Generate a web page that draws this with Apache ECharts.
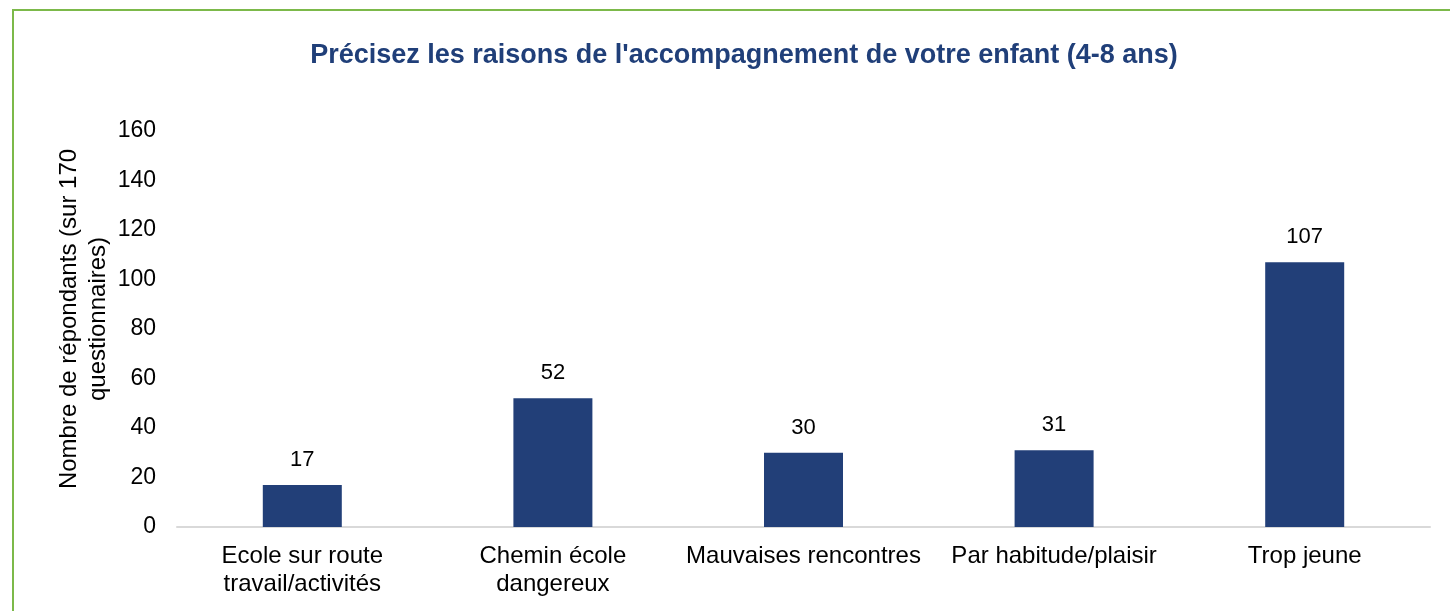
<!DOCTYPE html>
<html>
<head>
<meta charset="utf-8">
<script src="https://cdn.jsdelivr.net/npm/echarts@6/dist/echarts.min.js"></script>
<style>
  html, body { margin: 0; padding: 0; background: #fff; }
  #chart { width: 1450px; height: 611px; }
</style>
</head>
<body>
<div id="chart"></div>
<script>
// raisons de l'accompagnement (4-8 ans)
const categories = [
  'Ecole sur route\ntravail/activités',
  'Chemin école\ndangereux',
  'Mauvaises rencontres',
  'Par habitude/plaisir',
  'Trop jeune'
];
const values = [17, 52, 30, 31, 107];

const chart = echarts.init(document.getElementById('chart'));
const font = '"Liberation Sans", Arial, sans-serif';

const option = {
  animation: false,
  title: {
    text: "Précisez les raisons de l'accompagnement de votre enfant (4-8 ans)",
    left: 739,
    textAlign: 'center',
    top: 37,
    textStyle: { color: '#203f79', fontSize: 27, fontWeight: 'bold', fontFamily: font }
  },
  graphic: [
    {
      type: 'polyline',
      shape: { points: [[13, 611], [13, 10], [1450, 10]] },
      style: { stroke: '#7cb94a', lineWidth: 2, fill: null }
    }
  ],
  grid: { left: 177, right: 20, top: 131, bottom: 84 },
  xAxis: {
    type: 'category',
    data: categories,
    axisLine: { lineStyle: { color: '#d9d9d9', width: 2 } },
    axisTick: { show: false },
    axisLabel: {
      interval: 0,
      color: '#000', fontSize: 24, fontFamily: font, margin: 15, lineHeight: 28
    }
  },
  yAxis: {
    type: 'value',
    min: 0,
    max: 160,
    interval: 20,
    name: 'Nombre de répondants (sur 170\nquestionnaires)',
    nameLocation: 'middle',
    nameGap: 64,
    nameMoveOverlap: false,
    nameRotate: 90,
    nameTextStyle: {
      color: '#000', fontSize: 24, fontFamily: font, lineHeight: 29,
      padding: [0, 0, 0, 20]
    },
    splitLine: { show: false },
    axisLine: { show: false },
    axisTick: { show: false },
    axisLabel: { color: '#000', fontSize: 23, fontFamily: font, margin: 21 }
  },
  series: [
    {
      type: 'bar',
      data: values,
      barWidth: 79,
      itemStyle: { color: '#223f78' },
      label: {
        show: true,
        position: 'top',
        distance: 14,
        color: '#000',
        fontSize: 22,
        fontFamily: font
      }
    }
  ]
};

chart.setOption(option);
window.addEventListener('resize', chart.resize);
</script>
</body>
</html>
